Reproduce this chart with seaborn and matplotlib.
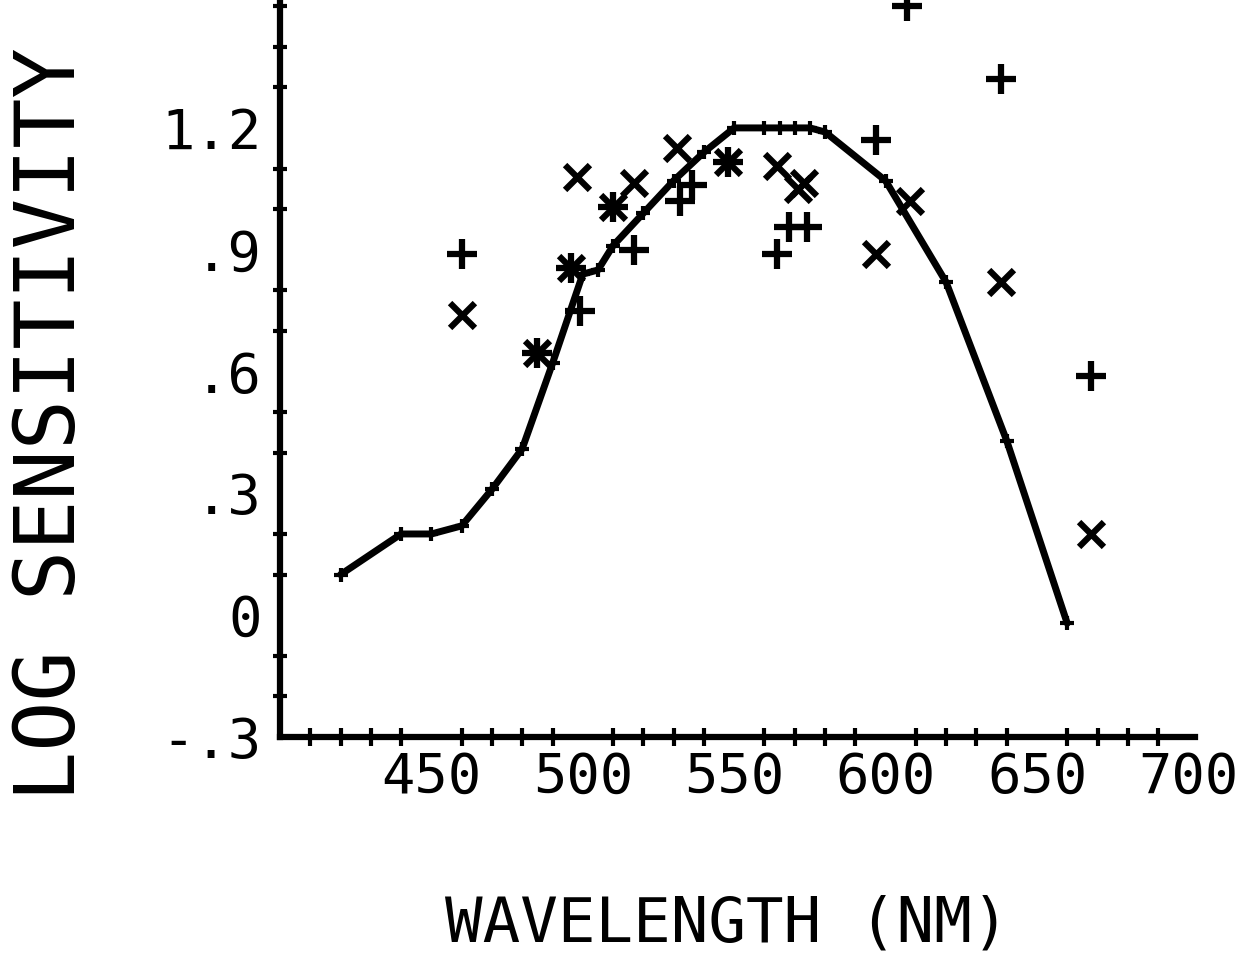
import numpy as np
import pandas as pd
import matplotlib
matplotlib.use("Agg")
import matplotlib.pyplot as plt
import seaborn as sns

# ---- data ----
curve_nm = [420, 440, 450, 460, 470, 480, 490, 500, 505, 510, 520, 530, 540,
            550, 560, 565, 570, 575, 580, 600, 620, 640, 660]
curve_logsens = [0.10, 0.20, 0.20, 0.22, 0.31, 0.41, 0.62, 0.84, 0.85, 0.91, 0.99,
                 1.07, 1.14, 1.20, 1.20, 1.20, 1.20, 1.20, 1.19, 1.07, 0.82, 0.43, -0.02]

plus_nm = [460, 485, 496, 499, 510, 517, 532, 536, 548, 564, 568, 574, 597, 607, 638, 668]
plus_logsens = [0.89, 0.645, 0.855, 0.75, 1.005, 0.90, 1.02, 1.06, 1.115, 0.89,
                0.955, 0.955, 1.17, 1.50, 1.32, 0.59]

cross_nm = [460, 485, 496, 498, 510, 517, 531, 548, 564, 571, 573, 597, 608, 638, 668]
cross_logsens = [0.74, 0.645, 0.855, 1.08, 1.005, 1.065, 1.15, 1.115, 1.105, 1.05,
                 1.065, 0.89, 1.02, 0.82, 0.20]

xtick_values = [450, 500, 550, 600, 650, 700]
xtick_labels = ["450", "500", "550", "600", "650", "700"]
ytick_values = [1.2, 0.9, 0.6, 0.3, 0.0, -0.3]
ytick_labels = ["1.2", ".9", ".6", ".3", "0", "-.3"]

x_title = "WAVELENGTH (NM)"
y_title = "LOG SENSITIVITY"

# ---- style ----
sns.set_theme(style="white")
plt.rcParams["font.family"] = ["DejaVu Sans Mono", "DejaVu Sans"]

fig = plt.figure(figsize=(12.53, 9.56), dpi=100)
ax = fig.add_axes([280 / 1253, (956 - 737) / 956, 915 / 1253, 737 / 956])

curve_df = pd.DataFrame({"nm": curve_nm, "v": curve_logsens})
plus_df = pd.DataFrame({"nm": plus_nm, "v": plus_logsens})
cross_df = pd.DataFrame({"nm": cross_nm, "v": cross_logsens})

sns.lineplot(data=curve_df, x="nm", y="v", ax=ax, color="black", lw=5,
             marker="+", markersize=10, markeredgewidth=3, markeredgecolor="black",
             estimator=None)
sns.scatterplot(data=plus_df, x="nm", y="v", ax=ax, marker="+", s=470,
                color="black", linewidth=4.5, clip_on=False)
sns.scatterplot(data=cross_df, x="nm", y="v", ax=ax, marker="x", s=320,
                color="black", linewidth=4.5, clip_on=False)

ax.set_xlim(400, 702.2)
ax.set_ylim(-0.3, 1.515)

ax.set_xticks(xtick_values, labels=xtick_labels)
ax.set_xticks(np.arange(410, 701, 10), minor=True)
ax.set_yticks(ytick_values, labels=ytick_labels)
ax.set_yticks(np.round(np.arange(-0.2, 1.51, 0.1), 2), minor=True)

for s in ["top", "right"]:
    ax.spines[s].set_visible(False)
for s in ["left", "bottom"]:
    ax.spines[s].set_color("black")
    ax.spines[s].set_linewidth(4.5)

ax.tick_params(axis="x", which="major", direction="inout", length=24, width=3.5,
               color="black", pad=-2, labelsize=40, labelcolor="black")
ax.tick_params(axis="x", which="minor", direction="inout", length=13, width=3,
               color="black", bottom=True)
ax.tick_params(axis="y", which="major", direction="inout", length=18, width=3.5,
               color="black", pad=4, labelsize=40, labelcolor="black")
ax.tick_params(axis="y", which="minor", direction="inout", length=10, width=3,
               color="black", left=True)

ax.set_xlabel(x_title, fontsize=45, color="black")
ax.set_ylabel(y_title, fontsize=60, color="black")
ax.xaxis.set_label_coords((727 - 280) / 915, (737 - 925) / 737)
ax.yaxis.set_label_coords((52 - 280) / 915, (737 - 424) / 737)
ax.xaxis.label.set_va("center")
ax.yaxis.label.set_va("center")
ax.grid(False)

fig.savefig("out.png", dpi=100, facecolor="white")
